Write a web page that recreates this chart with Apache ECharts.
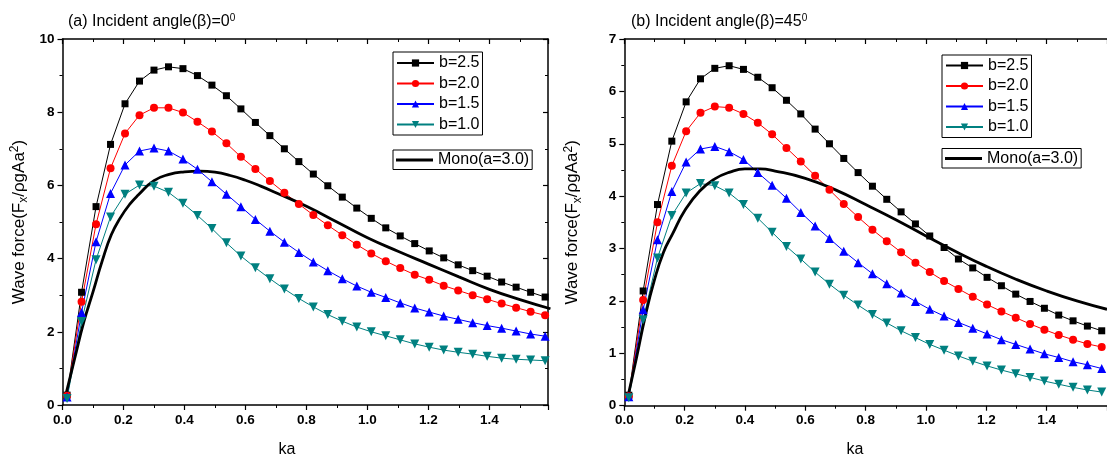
<!DOCTYPE html>
<html>
<head>
<meta charset="utf-8">
<script src="https://cdn.jsdelivr.net/npm/echarts@6/dist/echarts.min.js"></script>
<style>
  html, body { margin: 0; padding: 0; background: #fff; }
  #myChart { width: 1107px; height: 459px; }
</style>
</head>
<body>
<div id="myChart"></div>
<script>
  // ka of the marker points (same for both panels)
  const ka = [0.015, 0.0625, 0.11, 0.1575, 0.205, 0.2525, 0.30, 0.3475, 0.395, 0.4425, 0.49, 0.5375,
    0.585, 0.6325, 0.68, 0.7275, 0.775, 0.8225, 0.87, 0.9175, 0.965, 1.0125, 1.06, 1.1075, 1.155,
    1.2025, 1.25, 1.2975, 1.345, 1.3925, 1.44, 1.4875, 1.535, 1.5825];

  // (a) beta = 0
  const a_b25 = [0.27, 3.08, 5.42, 7.12, 8.23, 8.85, 9.15, 9.24, 9.19, 9.0, 8.74, 8.45, 8.09, 7.72, 7.36, 7.0,
    6.65, 6.31, 5.99, 5.68, 5.38, 5.1, 4.84, 4.62, 4.41, 4.21, 4.02, 3.83, 3.67, 3.52, 3.36, 3.22, 3.08, 2.95];
  const a_b20 = [0.25, 2.82, 4.94, 6.47, 7.42, 7.92, 8.12, 8.12, 7.99, 7.74, 7.47, 7.15, 6.78, 6.45, 6.12, 5.80,
    5.49, 5.19, 4.91, 4.64, 4.38, 4.14, 3.93, 3.74, 3.56, 3.42, 3.26, 3.13, 3.0, 2.89, 2.77, 2.66, 2.55, 2.45];
  const a_b15 = [0.22, 2.53, 4.46, 5.78, 6.56, 6.94, 7.02, 6.94, 6.72, 6.44, 6.1, 5.76, 5.42, 5.07, 4.75, 4.45,
    4.17, 3.91, 3.67, 3.45, 3.25, 3.08, 2.94, 2.79, 2.65, 2.54, 2.43, 2.34, 2.25, 2.17, 2.1, 2.02, 1.94, 1.88];
  const a_b10 = [0.18, 2.28, 3.97, 5.14, 5.76, 6.01, 5.98, 5.81, 5.51, 5.18, 4.82, 4.43, 4.07, 3.75, 3.45, 3.17,
    2.91, 2.68, 2.47, 2.29, 2.13, 2.0, 1.89, 1.78, 1.67, 1.58, 1.5, 1.44, 1.39, 1.33, 1.28, 1.25, 1.23, 1.21];
  const a_monoKa = [0.01, 0.04, 0.07, 0.1, 0.13, 0.16, 0.19, 0.22, 0.25, 0.3, 0.35, 0.4, 0.45, 0.5, 0.55, 0.6,
    0.65, 0.7, 0.8, 0.9, 1.0, 1.1, 1.2, 1.3, 1.4, 1.5, 1.6];
  const a_mono = [0.25, 1.27, 2.27, 3.09, 3.93, 4.65, 5.12, 5.48, 5.75, 6.13, 6.3, 6.37, 6.39, 6.36, 6.27, 6.14,
    5.98, 5.8, 5.43, 5.0, 4.57, 4.2, 3.85, 3.5, 3.16, 2.88, 2.63];

  // (b) beta = 45
  const b_b25 = [0.2, 2.19, 3.84, 5.05, 5.80, 6.24, 6.44, 6.49, 6.42, 6.27, 6.07, 5.83, 5.57, 5.28, 5.0, 4.72,
    4.45, 4.19, 3.94, 3.7, 3.47, 3.24, 3.02, 2.80, 2.63, 2.45, 2.29, 2.13, 1.99, 1.86, 1.73, 1.62, 1.52, 1.43];
  const b_b20 = [0.18, 2.02, 3.5, 4.58, 5.24, 5.59, 5.71, 5.69, 5.57, 5.40, 5.18, 4.92, 4.66, 4.39, 4.12, 3.85,
    3.6, 3.36, 3.14, 2.93, 2.73, 2.55, 2.38, 2.23, 2.08, 1.93, 1.80, 1.68, 1.56, 1.45, 1.35, 1.26, 1.18, 1.12];
  const b_b15 = [0.17, 1.83, 3.17, 4.09, 4.65, 4.9, 4.95, 4.85, 4.7, 4.45, 4.21, 3.96, 3.69, 3.43, 3.19, 2.95,
    2.73, 2.52, 2.33, 2.15, 1.99, 1.84, 1.71, 1.59, 1.48, 1.37, 1.26, 1.17, 1.08, 0.99, 0.92, 0.84, 0.78, 0.71];
  const b_b10 = [0.15, 1.64, 2.82, 3.63, 4.06, 4.24, 4.2, 4.06, 3.84, 3.58, 3.31, 3.04, 2.80, 2.55, 2.32, 2.11,
    1.92, 1.74, 1.58, 1.43, 1.3, 1.17, 1.06, 0.95, 0.85, 0.76, 0.68, 0.61, 0.54, 0.47, 0.41, 0.35, 0.30, 0.26];
  const b_monoKa = [0.01, 0.04, 0.07, 0.1, 0.13, 0.16, 0.2, 0.25, 0.3, 0.35, 0.4, 0.45, 0.5, 0.6, 0.7, 0.8,
    0.9, 1.0, 1.1, 1.2, 1.3, 1.4, 1.5, 1.6];
  const b_mono = [0.12, 0.9, 1.72, 2.4, 2.93, 3.28, 3.72, 4.1, 4.33, 4.46, 4.52, 4.52, 4.48, 4.34, 4.12, 3.84,
    3.55, 3.24, 2.94, 2.66, 2.41, 2.19, 2.0, 1.84];

  const names = ['b=2.5', 'b=2.0', 'b=1.5', 'b=1.0'];
  const monoName = 'Mono(a=3.0)';
  const titles = ['(a) Incident angle(β)=0{s|0}', '(b) Incident angle(β)=45{s|0}'];

  const FONT = '"Liberation Sans", Arial, sans-serif';
  const pairs = (xs, ys) => xs.map((x, i) => [x, ys[i]]);

  let myChart = echarts.init(document.getElementById('myChart'));

  const line = { show: true, onZero: false, lineStyle: { color: '#000', width: 1.5 } };
  const tickOut = { show: true, inside: false, length: 5, lineStyle: { color: '#000', width: 1.2 } };
  const tickIn = { show: true, inside: true, length: 5, lineStyle: { color: '#000', width: 1.2 } };
  const minorOut = { show: true, splitNumber: 2, length: 3, lineStyle: { color: '#000', width: 1 } };
  const label = { color: '#000', fontSize: 13.5, fontWeight: 'bold', fontFamily: FONT };

  function xAxes(grid, max) {
    return [{
      gridIndex: grid, type: 'value', min: 0, max: max, interval: 0.2,
      axisLine: line, axisTick: tickOut, minorTick: minorOut, splitLine: { show: false },
      axisLabel: Object.assign({ margin: 8, showMaxLabel: false, formatter: v => v.toFixed(1) }, label)
    }, {
      gridIndex: grid, type: 'value', position: 'top', min: 0, max: max, interval: 0.2,
      axisLine: line, axisTick: tickIn, minorTick: Object.assign({}, minorOut),
      splitLine: { show: false }, axisLabel: { show: false }
    }];
  }

  const yName = '{a|Wave force(F}{b|x}{a|/ρgAa}{c|2}{a|)}';
  const yNameStyle = {
    color: '#000', fontFamily: FONT,
    rich: {
      a: { fontSize: 17, lineHeight: 21, fontFamily: FONT, color: '#000' },
      b: { fontSize: 12, lineHeight: 12, verticalAlign: 'bottom', fontFamily: FONT, color: '#000' },
      c: { fontSize: 12, lineHeight: 12, verticalAlign: 'top', fontFamily: FONT, color: '#000' }
    }
  };

  function yAxisMain(grid, max, interval, gap) {
    return {
      gridIndex: grid, type: 'value', min: 0, max: max, interval: interval,
      name: yName, nameLocation: 'middle', nameRotate: 90, nameGap: gap, nameTextStyle: yNameStyle,
      axisLine: line, axisTick: tickOut, minorTick: minorOut, splitLine: { show: false },
      axisLabel: Object.assign({ margin: 8 }, label)
    };
  }

  function seriesFor(grid, vals, monoKa, mono) {
    const xi = grid * 2, yi = grid === 0 ? 0 : 2;
    const looks = [
      { color: '#000000', symbol: 'rect', size: 7 },
      { color: '#ff0000', symbol: 'circle', size: 8 },
      { color: '#0000ff', symbol: 'triangle', size: 9 },
      { color: '#008080', symbol: 'triangle', size: 9, rotate: 180 }
    ];
    const out = vals.map((v, i) => ({
      name: names[i], type: 'line', xAxisIndex: xi, yAxisIndex: yi,
      data: pairs(ka, v), animation: false,
      symbol: looks[i].symbol, symbolSize: looks[i].size, symbolRotate: looks[i].rotate || 0,
      itemStyle: { color: looks[i].color },
      lineStyle: { color: looks[i].color, width: 1 }
    }));
    out.push({
      name: monoName, type: 'line', xAxisIndex: xi, yAxisIndex: yi,
      data: pairs(monoKa, mono), animation: false, symbol: 'none', smooth: true, z: 3,
      itemStyle: { color: '#000' }, lineStyle: { color: '#000', width: 2.8 }
    });
    return out;
  }

  function legendBox(data, left, top, pad, mono) {
    return {
      data: data, orient: 'vertical', left: left, top: top, padding: pad,
      itemWidth: 37, itemHeight: mono ? 3 : 9, itemGap: 2.5, selectedMode: false,
      icon: mono ? 'rect' : undefined,
      borderColor: '#000', borderWidth: 1, backgroundColor: '#fff',
      textStyle: { color: '#000', fontSize: 16, lineHeight: 18, fontFamily: FONT }
    };
  }

  let option = {
    backgroundColor: '#fff',
    animation: false,
    title: [
      { text: titles[0], left: 68, top: 13, padding: 0,
        textStyle: { color: '#000', fontSize: 16, fontWeight: 'normal', fontFamily: FONT, lineHeight: 18,
          rich: { s: { fontSize: 10, lineHeight: 10, verticalAlign: 'top', fontFamily: FONT, color: '#000' } } } },
      { text: titles[1], left: 631, top: 13, padding: 0,
        textStyle: { color: '#000', fontSize: 16, fontWeight: 'normal', fontFamily: FONT, lineHeight: 18,
          rich: { s: { fontSize: 10, lineHeight: 10, verticalAlign: 'top', fontFamily: FONT, color: '#000' } } } },
      { text: 'ka', left: 287, top: 442, textAlign: 'center', padding: 0,
        textStyle: { color: '#000', fontSize: 16, fontWeight: 'normal', fontFamily: FONT } },
      { text: 'ka', left: 855, top: 442, textAlign: 'center', padding: 0,
        textStyle: { color: '#000', fontSize: 16, fontWeight: 'normal', fontFamily: FONT } }
    ],
    legend: [
      legendBox(names, 393, 52, [2, 3, 1.5, 3]),
      legendBox([monoName], 393, 150, [1, 3, 0.5, 3], true),
      legendBox(names, 942, 55, [1.5, 3, 1.5, 3]),
      legendBox([monoName], 942, 148.5, [1, 3, 0.5, 3], true)
    ],
    grid: [
      { left: 62.5, top: 39, width: 485.5, height: 366 },
      { left: 624.3, top: 39, width: 493.8, height: 366.7 }
    ],
    xAxis: xAxes(0, 1.592).concat(xAxes(1, 1.6)),
    yAxis: [
      yAxisMain(0, 10, 2, 33),
      { gridIndex: 0, type: 'value', position: 'right', min: 0, max: 10, interval: 2,
        axisLine: line, axisTick: tickIn, minorTick: minorOut, splitLine: { show: false }, axisLabel: { show: false } },
      yAxisMain(1, 7, 1, 41)
    ],
    series: seriesFor(0, [a_b25, a_b20, a_b15, a_b10], a_monoKa, a_mono)
      .concat(seriesFor(1, [b_b25, b_b20, b_b15, b_b10], b_monoKa, b_mono))
  };

  myChart.setOption(option);
</script>
</body>
</html>
